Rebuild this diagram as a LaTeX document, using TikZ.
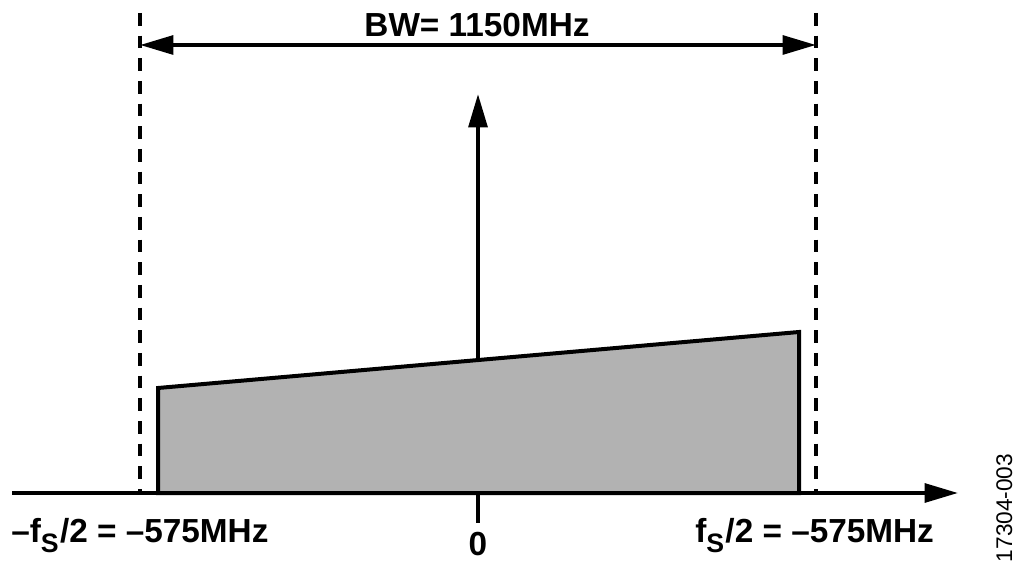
\documentclass[tikz,border=0pt]{standalone}
\usepackage{fontspec}
\setmainfont{Liberation Sans}
\usetikzlibrary{arrows.meta}
\newcommand{\mysubS}{\raisebox{-0.3em}{\fontsize{20}{22}\selectfont S}\kern1pt}
\tikzset{
  lbl/.style={font=\bfseries\fontsize{25}{28}\selectfont, inner sep=0pt},
  thick line/.style={line width=3pt},
  guide/.style={line width=2.4pt, dash pattern=on 9.5pt off 7.5pt},
  bigtip/.style={-{Triangle[length=25pt,width=14pt]}},
  band/.style={fill=black!30, draw=black, line width=3pt, line join=miter},
}
\begin{document}
\begin{tikzpicture}[x=0.75pt,y=-0.75pt]
\useasboundingbox (0,0) rectangle (1024,573);
% coordinates
\coordinate (p1) at (158,493);
\coordinate (p2) at (158,388);
\coordinate (p3) at (799,332);
\coordinate (p4) at (799,493);
\coordinate (dL1) at (140,13);
\coordinate (dL2) at (140,493);
\coordinate (dR1) at (816,13);
\coordinate (dR2) at (816,493);
\coordinate (bwL) at (140,45);
\coordinate (bwR) at (816,45);
\coordinate (axL) at (12,493);
\coordinate (axR) at (958,493);
\coordinate (tk1) at (478,493);
\coordinate (tk2) at (478,523);
\coordinate (vb) at (478,360);
\coordinate (vt) at (478,94);
% band
\draw[band] (p1) -- (p2) -- (p3) -- (p4) -- cycle;
% guides
\draw[guide] (dL1) -- (dL2);
\draw[guide] (dR1) -- (dR2);
% bandwidth arrow
\draw[thick line, {Triangle[length=25pt,width=14pt]}-{Triangle[length=25pt,width=14pt]}] (bwL) -- (bwR);
% axis
\draw[thick line, bigtip] (axL) -- (axR);
\draw[thick line] (tk1) -- (tk2);
% carrier
\draw[thick line, bigtip] (vb) -- (vt);
% labels
\node[lbl, anchor=base] (bw) at (477,37) {BW= 1150MHz};
\node[lbl, anchor=base west] (fl) at (11,542) {–f\mysubS/2 = –575MHz};
\node[lbl, anchor=base west] (fr) at (695,542) {f\mysubS/2 = –575MHz};
\node[lbl, anchor=base] (zero) at (478,555) {0};
\node[font=\fontsize{17}{18}\selectfont, inner sep=0pt, rotate=90, anchor=base] (fig) at (1012,508) {17304-003};
\end{tikzpicture}
\end{document}
